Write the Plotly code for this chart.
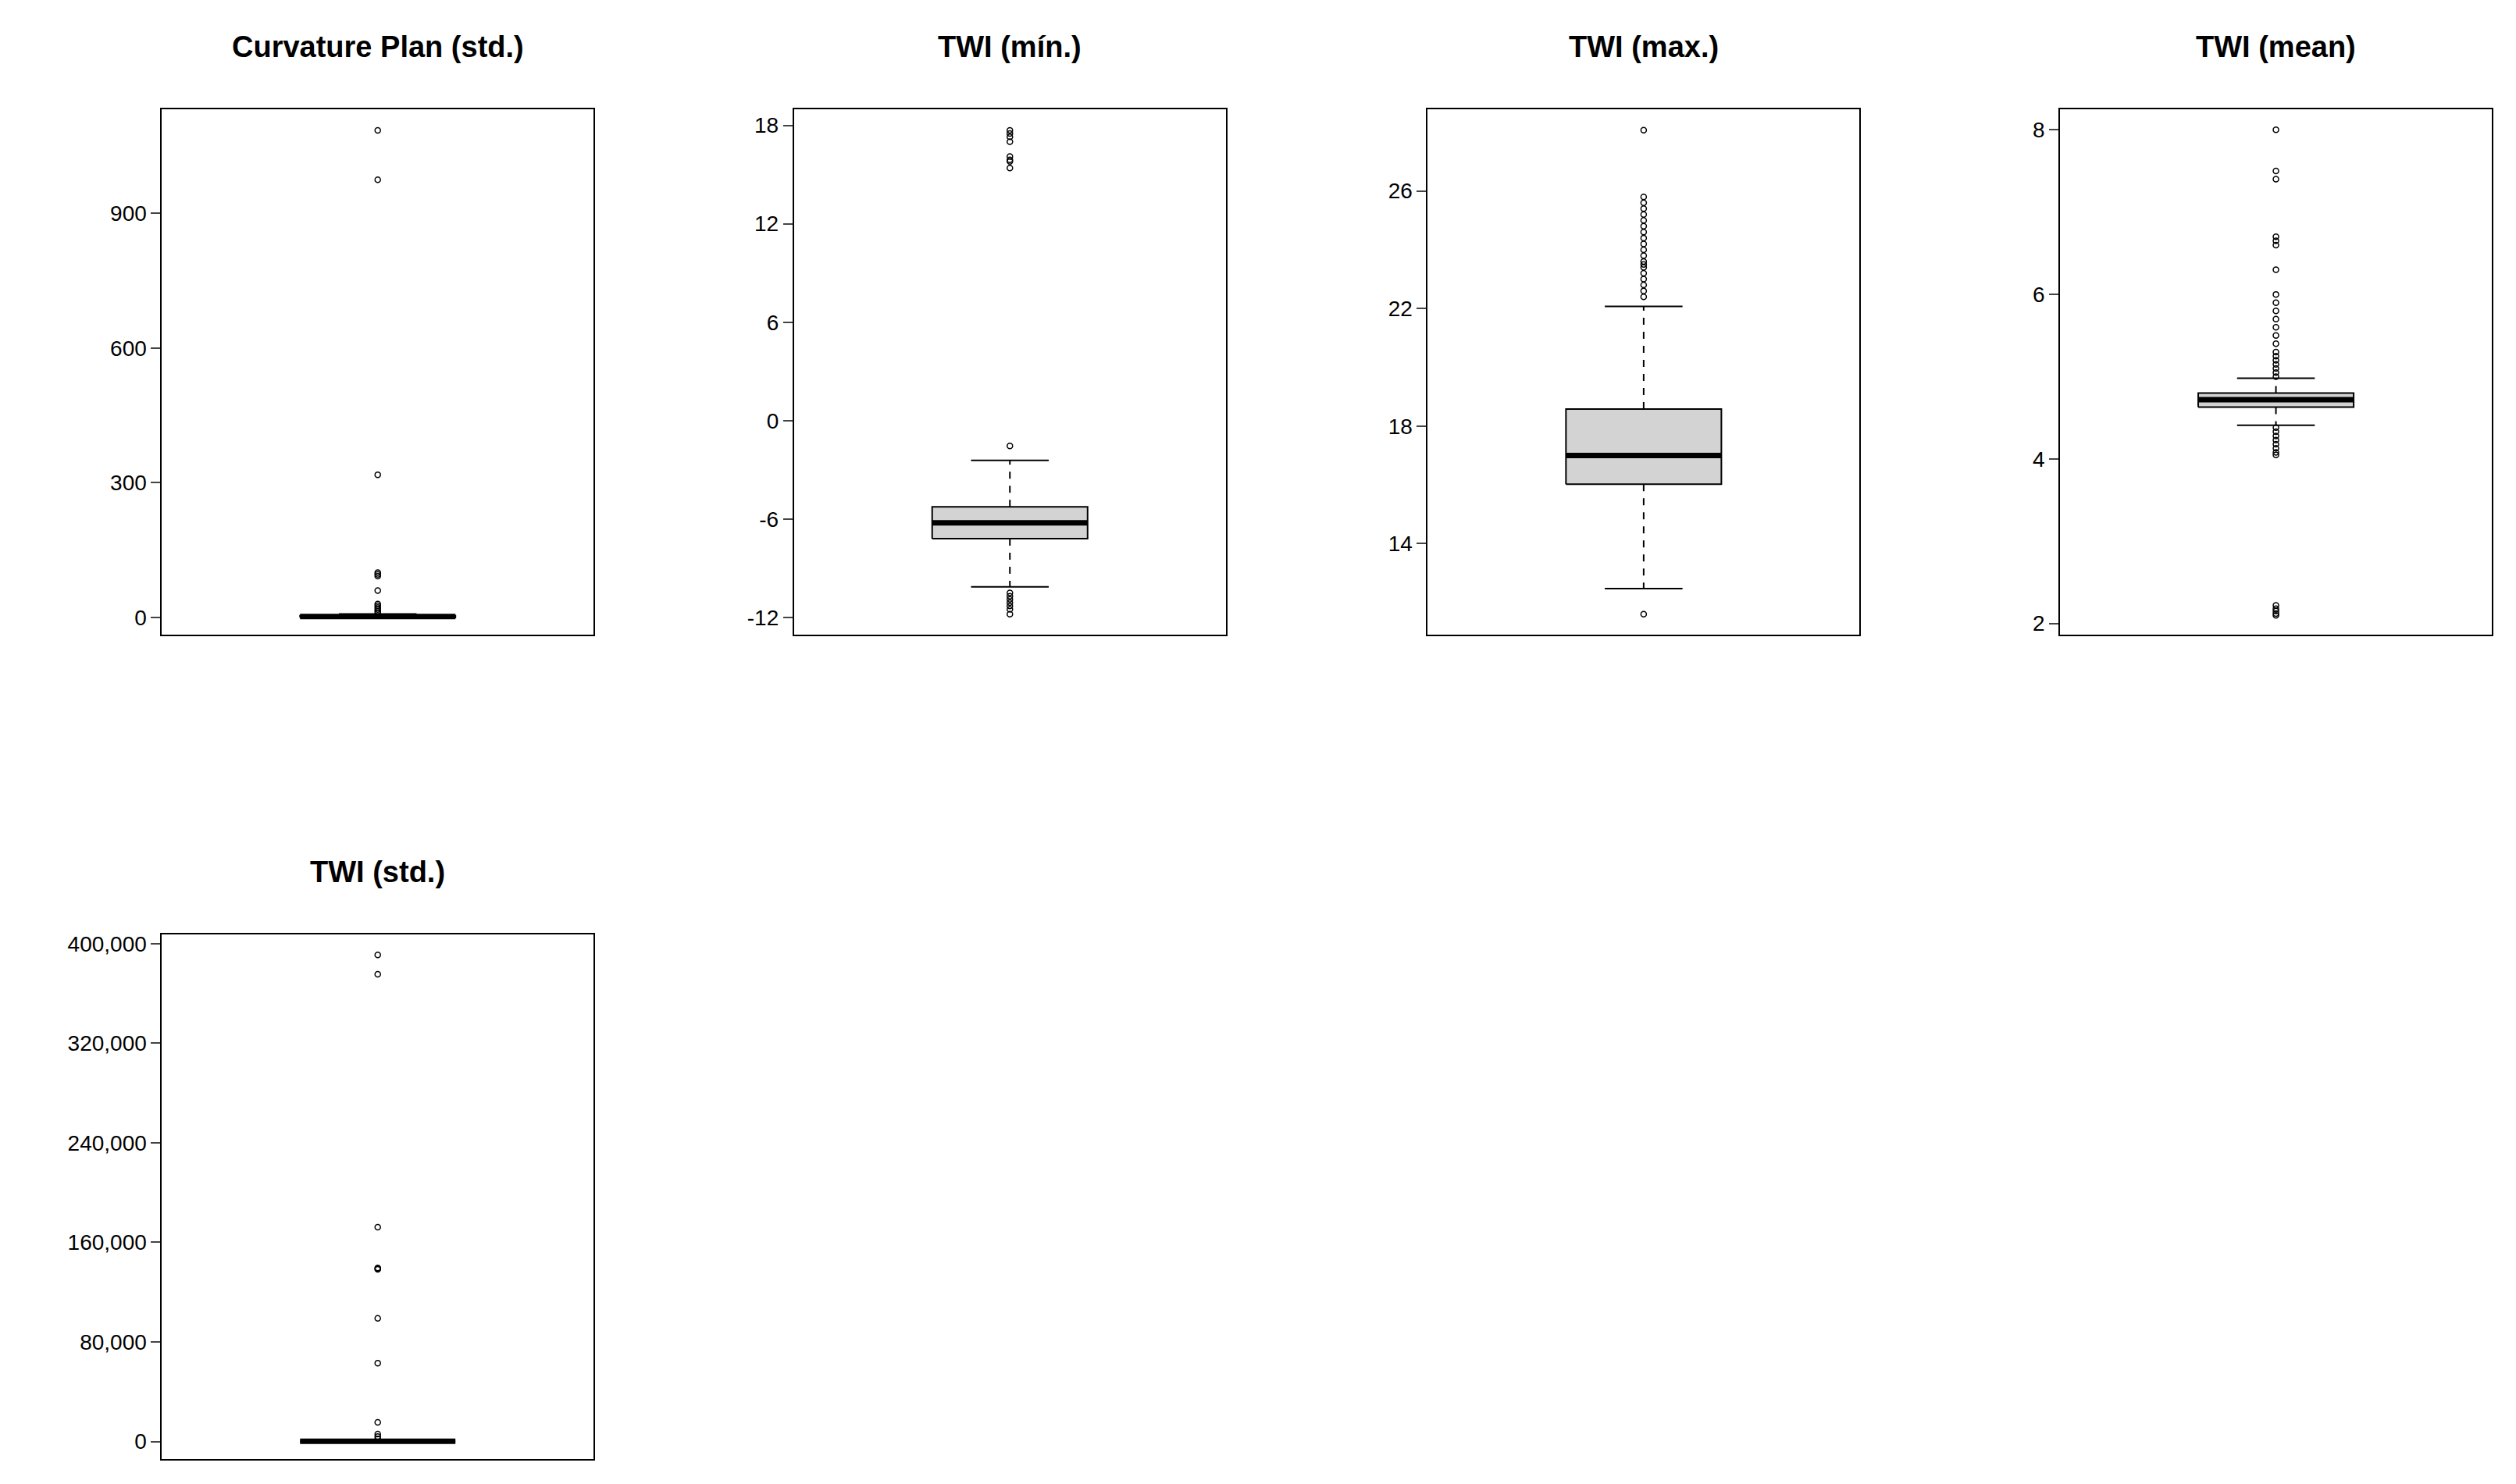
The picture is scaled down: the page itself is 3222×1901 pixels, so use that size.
import plotly.graph_objects as go

titles = ["Curvature Plan (std.)", "TWI (mín.)", "TWI (max.)", "TWI (mean)", "TWI (std.)"]
q1 = [0, -7.2, 16.02, 4.63, 0]
med = [2, -6.23, 17.0, 4.72, 200]
q3 = [4, -5.26, 18.58, 4.80, 400]
lo_whisk = [0, -10.14, 12.47, 4.41, 0]
hi_whisk = [8, -2.42, 22.07, 4.98, 900]
outliers = [
    [1085, 975, 318, 100, 96, 92, 60] + [10, 14, 18, 22, 26, 30],
    [-1.54, -10.5, -10.7, -10.9, -11.1, -11.3, -11.5, -11.8, 17.7, 17.5, 17.3, 17.0, 16.1, 15.9, 15.8, 15.4],
    [11.6, 28.07, 22.4, 22.6, 22.8, 23.0, 23.2, 23.4, 23.5, 23.6, 23.8, 24.0, 24.2, 24.4, 24.6, 24.8, 25.0, 25.2, 25.4, 25.6, 25.8],
    [5.0, 5.05, 5.1, 5.15, 5.2, 5.25, 5.3, 5.4, 5.5, 5.6, 5.7, 5.8, 5.9, 6.0, 6.3, 6.6, 6.65, 6.7, 7.4, 7.5, 8.0,
     4.38, 4.33, 4.28, 4.23, 4.18, 4.13, 4.08, 4.05, 2.22, 2.18, 2.15, 2.12, 2.1],
    [391000, 375500, 172300, 139500, 138900, 138300, 99000, 63000, 15400, 2000, 4000, 6000],
]
ranges = [[-39, 1132], [-13.07, 18.98], [10.89, 28.78], [1.86, 8.25], [-14150, 407700]]
tickvals = [[0, 300, 600, 900], [-12, -6, 0, 6, 12, 18], [14, 18, 22, 26], [2, 4, 6, 8],
            [0, 80000, 160000, 240000, 320000, 400000]]
ticktext = [["0", "300", "600", "900"], ["-12", "-6", "0", "6", "12", "18"], ["14", "18", "22", "26"],
            ["2", "4", "6", "8"], ["0", "80,000", "160,000", "240,000", "320,000", "400,000"]]

xd = [[0.0619, 0.2334], [0.3131, 0.4847], [0.565, 0.7366], [0.8163, 0.9879], [0.0619, 0.2334]]
yd = [[0.577, 0.932]] * 4 + [[0.0205, 0.375]]

fig = go.Figure()
bw, cw = 0.18, 0.09
for i in range(5):
    xa = "x" if i == 0 else f"x{i+1}"
    ya = "y" if i == 0 else f"y{i+1}"
    ln = dict(color="black", width=2)
    fig.add_trace(go.Scatter(x=[1-bw, 1+bw, 1+bw, 1-bw, 1-bw], y=[q1[i], q1[i], q3[i], q3[i], q1[i]],
                             fill="toself", fillcolor="#d3d3d3", mode="lines", line=ln, xaxis=xa, yaxis=ya))
    fig.add_trace(go.Scatter(x=[1, 1, None, 1, 1], y=[q3[i], hi_whisk[i], None, q1[i], lo_whisk[i]],
                             mode="lines", line=dict(color="black", width=2, dash="dash"), xaxis=xa, yaxis=ya))
    fig.add_trace(go.Scatter(x=[1-cw, 1+cw, None, 1-cw, 1+cw], y=[hi_whisk[i]]*2 + [None] + [lo_whisk[i]]*2,
                             mode="lines", line=ln, xaxis=xa, yaxis=ya))
    fig.add_trace(go.Scatter(x=[1-bw, 1+bw], y=[med[i]]*2, mode="lines",
                             line=dict(color="black", width=7), xaxis=xa, yaxis=ya))
    fig.add_trace(go.Scatter(x=[1]*len(outliers[i]), y=outliers[i], mode="markers",
                             marker=dict(symbol="circle-open", size=7, color="black", line=dict(width=1.5)),
                             xaxis=xa, yaxis=ya))
    k = "" if i == 0 else str(i+1)
    fig.layout["xaxis"+k] = dict(domain=xd[i], range=[0.5, 1.5], showticklabels=False, showgrid=False,
                                 zeroline=False, showline=True, mirror=True, linecolor="black", linewidth=2,
                                 anchor=ya, ticks="")
    fig.layout["yaxis"+k] = dict(domain=yd[i], range=ranges[i], tickvals=tickvals[i], ticktext=ticktext[i],
                                 showgrid=False, zeroline=False, showline=True, mirror=True, linecolor="black",
                                 linewidth=2, ticks="outside", ticklen=12, tickwidth=2, anchor=xa,
                                 tickfont=dict(size=28, color="black", family="Liberation Sans"))
    fig.add_annotation(text=f"<b>{titles[i]}</b>", x=sum(xd[i])/2, y=yd[i][1] + 0.042, xref="paper", yref="paper",
                       xanchor="center", yanchor="middle", showarrow=False,
                       font=dict(size=38, color="black", family="Liberation Sans"))

fig.update_layout(width=3222, height=1901, showlegend=False, plot_bgcolor="white", paper_bgcolor="white",
                  margin=dict(l=0, r=0, t=0, b=0))
fig.write_html("out.html")
